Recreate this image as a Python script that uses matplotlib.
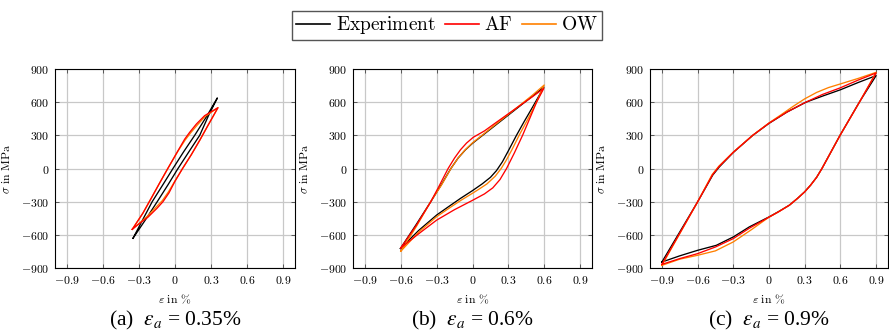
import matplotlib
matplotlib.use('Agg')
import matplotlib.pyplot as plt
from matplotlib.lines import Line2D

plt.rcParams['mathtext.fontset'] = 'cm'
plt.rcParams['font.family'] = ['DejaVu Serif']

# ---------------- data ----------------
x_ticks = [-0.9, -0.6, -0.3, 0.0, 0.3, 0.6, 0.9]
x_tick_labels = ['$-0.9$', '$-0.6$', '$-0.3$', '$0$', '$0.3$', '$0.6$', '$0.9$']
y_ticks = [-900, -600, -300, 0, 300, 600, 900]
y_tick_labels = ['$-900$', '$-600$', '$-300$', '$0$', '$300$', '$600$', '$900$']

series_names = ['Experiment', 'AF', 'OW']
captions = [r'(a)  $\varepsilon_a$ = 0.35%', r'(b)  $\varepsilon_a$ = 0.6%', r'(c)  $\varepsilon_a$ = 0.9%']

# panel (a) eps_a = 0.35 %
a_exp_up_eps = [-0.35, -0.27, -0.19, -0.10, -0.017, 0.07, 0.164, 0.26, 0.353]
a_exp_up_sig = [-631, -465, -300, -145, 0, 148, 300, 465, 638]
a_exp_dn_eps = [0.353, 0.28, 0.206, 0.115, 0.025, -0.06, -0.148, -0.25, -0.35]
a_exp_dn_sig = [638, 480, 300, 150, 0, -150, -300, -470, -631]

a_af_up_eps = [-0.356, -0.267, -0.197, -0.128, -0.06, 0.025, 0.081, 0.122, 0.178, 0.247, 0.358]
a_af_up_sig = [-550, -403, -267, -131, 0, 161, 266, 327, 402, 478, 550]
a_af_dn_eps = [0.358, 0.275, 0.206, 0.136, 0.063, 0.0, -0.05, -0.10, -0.15, -0.225, -0.294, -0.356]
a_af_dn_sig = [550, 390, 255, 125, 0, -115, -220, -300, -360, -440, -495, -550]

a_ow_up_eps = [-0.356, -0.267, -0.197, -0.128, -0.06, 0.025, 0.085, 0.13, 0.185, 0.25, 0.358]
a_ow_up_sig = [-550, -403, -267, -131, 0, 158, 258, 322, 392, 470, 550]
a_ow_dn_eps = [0.358, 0.275, 0.206, 0.136, 0.063, 0.0, -0.055, -0.105, -0.16, -0.23, -0.294, -0.356]
a_ow_dn_sig = [550, 390, 255, 125, 0, -112, -212, -290, -352, -432, -492, -550]

# panel (b) eps_a = 0.6 %
b_exp_up_eps = [-0.603, -0.47, -0.349, -0.26, -0.181, -0.12, -0.06, 0.0, 0.1, 0.2, 0.3, 0.4, 0.5, 0.597]
b_exp_up_sig = [-724, -505, -300, -145, 0, 95, 168, 228, 313, 398, 483, 568, 653, 735]
b_exp_dn_eps = [0.597, 0.5, 0.43, 0.368, 0.3, 0.25, 0.2, 0.15, 0.08, 0.0, -0.1, -0.2, -0.3, -0.45, -0.603]
b_exp_dn_sig = [735, 550, 420, 300, 160, 60, -20, -80, -140, -200, -270, -345, -421, -560, -724]

b_af_up_eps = [-0.60, -0.469, -0.349, -0.28, -0.204, -0.15, -0.10, -0.05, 0.006, 0.1, 0.2, 0.3, 0.4, 0.5, 0.597]
b_af_up_sig = [-718, -512, -300, -160, 0, 95, 170, 230, 282, 340, 418, 495, 572, 648, 725]
b_af_dn_eps = [0.597, 0.536, 0.478, 0.419, 0.35, 0.285, 0.23, 0.17, 0.1, 0.0, -0.15, -0.3, -0.45, -0.6]
b_af_dn_sig = [725, 600, 450, 300, 140, 0, -100, -175, -230, -288, -372, -467, -590, -718]

b_ow_up_eps = [-0.60, -0.47, -0.35, -0.26, -0.18, -0.12, -0.06, 0.0, 0.1, 0.2, 0.3, 0.4, 0.5, 0.60]
b_ow_up_sig = [-748, -525, -300, -150, 0, 95, 170, 232, 318, 405, 490, 575, 662, 755]
b_ow_dn_eps = [0.60, 0.536, 0.46, 0.39, 0.33, 0.28, 0.24, 0.19, 0.12, 0.05, 0.0, -0.1, -0.2, -0.3, -0.45, -0.60]
b_ow_dn_sig = [755, 600, 440, 300, 170, 70, 0, -70, -140, -190, -224, -290, -362, -436, -575, -748]

# panel (c) eps_a = 0.9 %
c_exp_up_eps = [-0.90, -0.75, -0.60, -0.473, -0.417, -0.30, -0.137, 0.0, 0.15, 0.311, 0.45, 0.60, 0.75, 0.90]
c_exp_up_sig = [-846, -574, -302, -60, 15, 145, 299, 408, 510, 600, 655, 712, 778, 840]
c_exp_dn_eps = [0.90, 0.759, 0.597, 0.445, 0.40, 0.35, 0.30, 0.24, 0.171, 0.08, 0.0, -0.165, -0.30, -0.443, -0.60, -0.75, -0.90]
c_exp_dn_sig = [840, 600, 300, 0, -80, -150, -211, -270, -332, -390, -438, -528, -619, -695, -740, -790, -846]

c_af_up_eps = [-0.90, -0.75, -0.60, -0.475, -0.42, -0.30, -0.137, 0.0, 0.15, 0.30, 0.45, 0.60, 0.75, 0.90]
c_af_up_sig = [-867, -585, -302, -58, 18, 147, 300, 410, 510, 595, 670, 730, 800, 864]
c_af_dn_eps = [0.90, 0.76, 0.597, 0.445, 0.40, 0.35, 0.30, 0.24, 0.171, 0.08, 0.0, -0.165, -0.30, -0.45, -0.60, -0.75, -0.90]
c_af_dn_sig = [864, 600, 300, 0, -80, -150, -211, -270, -332, -392, -440, -540, -634, -710, -770, -815, -867]

c_ow_up_eps = [-0.90, -0.75, -0.60, -0.478, -0.422, -0.30, -0.137, 0.0, 0.1, 0.2, 0.3, 0.4, 0.5, 0.6, 0.75, 0.90]
c_ow_up_sig = [-876, -590, -302, -55, 20, 148, 300, 412, 485, 560, 630, 688, 732, 765, 815, 870]
c_ow_dn_eps = [0.90, 0.76, 0.597, 0.445, 0.40, 0.35, 0.30, 0.24, 0.171, 0.08, 0.0, -0.15, -0.30, -0.45, -0.60, -0.75, -0.90]
c_ow_dn_sig = [870, 600, 300, 0, -80, -150, -211, -270, -332, -392, -440, -555, -664, -745, -785, -820, -876]

colors = {'Experiment': '#000000', 'AF': '#ff0000', 'OW': '#ff8000'}

panels = [
    {'Experiment': (a_exp_up_eps + a_exp_dn_eps, a_exp_up_sig + a_exp_dn_sig),
     'AF': (a_af_up_eps + a_af_dn_eps, a_af_up_sig + a_af_dn_sig),
     'OW': (a_ow_up_eps + a_ow_dn_eps, a_ow_up_sig + a_ow_dn_sig)},
    {'Experiment': (b_exp_up_eps + b_exp_dn_eps, b_exp_up_sig + b_exp_dn_sig),
     'AF': (b_af_up_eps + b_af_dn_eps, b_af_up_sig + b_af_dn_sig),
     'OW': (b_ow_up_eps + b_ow_dn_eps, b_ow_up_sig + b_ow_dn_sig)},
    {'Experiment': (c_exp_up_eps + c_exp_dn_eps, c_exp_up_sig + c_exp_dn_sig),
     'AF': (c_af_up_eps + c_af_dn_eps, c_af_up_sig + c_af_dn_sig),
     'OW': (c_ow_up_eps + c_ow_dn_eps, c_ow_up_sig + c_ow_dn_sig)},
]

# ---------------- layout ----------------
W, H = 889, 331
fig = plt.figure(figsize=(W / 100, H / 100), dpi=100)

axes_px = [(55, 295), (353, 592), (650, 888)]
top_px, bot_px = 69, 268

draw_order = ['Experiment', 'OW', 'AF']
for i, (l, r) in enumerate(axes_px):
    ax = fig.add_axes([l / W, 1 - bot_px / H, (r - l) / W, (bot_px - top_px) / H])
    ax.set_xlim(-1.0, 1.0)
    ax.set_ylim(-900, 900)
    ax.set_xticks(x_ticks)
    ax.set_xticklabels(x_tick_labels)
    ax.set_yticks(y_ticks)
    ax.set_yticklabels(y_tick_labels)
    ax.grid(True, color='#c8c8c8', linewidth=0.9)
    ax.set_axisbelow(True)
    ax.tick_params(direction='in', top=True, right=True, length=3, width=0.6,
                   color='#444444', labelsize=8.5, pad=4)
    for s in ax.spines.values():
        s.set_linewidth(0.8)
        s.set_color('#000000')
    for name in draw_order:
        e, s = panels[i][name]
        ax.plot(e, s, color=colors[name], lw=0.95, solid_joinstyle='round')
    ax.set_xlabel(r'$\varepsilon\ \mathrm{in}\ \%$', fontsize=8.5, labelpad=5)
    ax.set_ylabel(r'$\sigma\ \mathrm{in\ MPa}$', fontsize=8.5, labelpad=6)
    fig.text((l + r) / 2 / W, 1 - 320 / H, captions[i], ha='center', va='center',
             fontsize=15.5, family='Liberation Serif', math_fontfamily='stix')

handles = [Line2D([], [], color=colors[n], lw=1.2) for n in series_names]
labels = [r'$\mathrm{' + n + '}$' for n in series_names]
fig.legend(handles, labels, loc='center', bbox_to_anchor=(447 / W, 1 - 25.5 / H),
           ncol=3, frameon=True, fancybox=False, edgecolor='#555555', framealpha=1,
           fontsize=14, handlelength=1.75, columnspacing=0.46, handletextpad=0.28,
           borderpad=0.2, borderaxespad=0.0)

fig.savefig('out.png', dpi=100)
